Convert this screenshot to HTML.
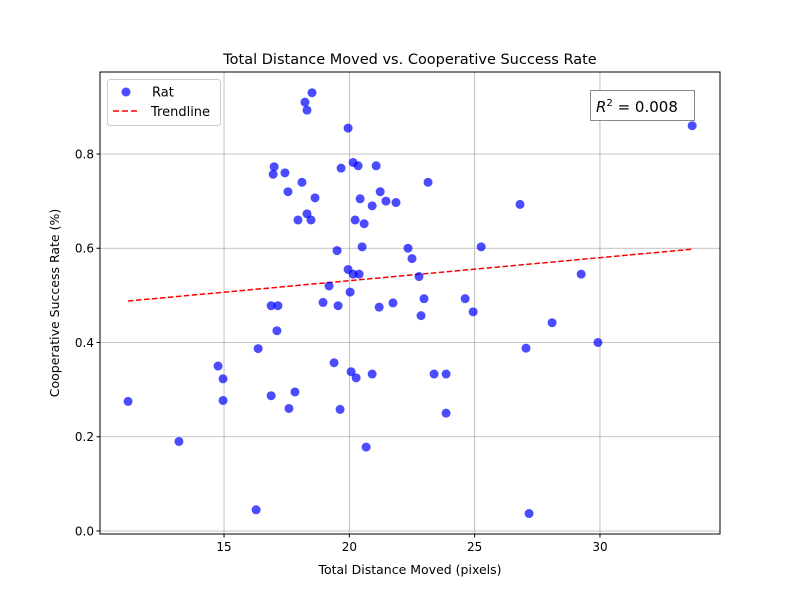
<!DOCTYPE html>
<html><head><meta charset="utf-8">
<style>
body{margin:0;background:#fff}
svg{display:block;font-family:"DejaVu Sans","Liberation Sans",sans-serif}
</style></head>
<body>
<svg id="chart" width="800" height="600" viewBox="0 0 800 600">
<rect width="800" height="600" fill="#fff"/>
<g id="grid"></g>
<g id="trend"></g>
<g id="points"></g>
<rect x="100" y="72" width="620" height="462" fill="none" stroke="#000" stroke-width="1"/>
<g id="ticks"></g>
<text x="410" y="64" text-anchor="middle" font-size="14.5">Total Distance Moved vs. Cooperative Success Rate</text>
<text x="410" y="574" text-anchor="middle" font-size="12.5">Total Distance Moved (pixels)</text>
<text transform="translate(59,303) rotate(-90)" text-anchor="middle" font-size="12.5">Cooperative Success Rate (%)</text>
<g>
<rect x="107.5" y="79.5" width="113" height="46" rx="3" fill="#fff" fill-opacity="0.8" stroke="#ccc"/>
<circle cx="126" cy="92" r="4.5" fill="#0000ff" fill-opacity="0.7"/>
<text x="152" y="96.5" font-size="13">Rat</text>
<line x1="113" y1="111" x2="140" y2="111" stroke="#ff0000" stroke-width="1.6" stroke-dasharray="6,3"/>
<text x="151" y="116" font-size="13">Trendline</text>
</g>
<g>
<rect x="590.5" y="90.5" width="104" height="30" fill="#fff" stroke="#888"/>
<text x="596" y="112" font-size="15"><tspan font-style="italic">R</tspan><tspan font-size="10" dy="-6">2</tspan><tspan dy="6"> = 0.008</tspan></text>
</g>
</svg>
<script>
const xVals=[11.17,13.20,14.76,14.96,14.96,16.28,16.36,16.88,16.88,16.96,17.00,17.15,17.11,17.43,17.55,17.59,17.83,17.95,18.11,18.23,18.31,18.31,18.51,18.47,18.63,18.95,19.19,19.39,19.51,19.55,19.63,19.67,19.95,19.95,20.03,20.07,20.15,20.15,20.23,20.27,20.35,20.39,20.43,20.51,20.59,20.67,20.91,20.91,21.07,21.19,21.23,21.46,21.74,21.86,22.34,22.50,22.78,22.86,22.98,23.14,23.38,23.86,23.86,24.62,24.94,25.26,26.81,27.05,27.17,28.09,29.25,29.92,33.68];
const yVals=[0.275,0.19,0.35,0.323,0.277,0.045,0.387,0.287,0.478,0.757,0.773,0.478,0.425,0.76,0.72,0.26,0.295,0.66,0.74,0.91,0.893,0.673,0.93,0.66,0.707,0.485,0.52,0.357,0.595,0.478,0.258,0.77,0.855,0.555,0.507,0.338,0.782,0.545,0.66,0.325,0.775,0.545,0.705,0.603,0.652,0.178,0.333,0.69,0.775,0.475,0.72,0.70,0.484,0.697,0.60,0.578,0.54,0.457,0.493,0.74,0.333,0.333,0.25,0.493,0.465,0.603,0.693,0.388,0.037,0.442,0.545,0.40,0.86];
const trendX=[11.17,33.68];
const trendY=[0.488,0.598];
const xTicks=[15,20,25,30];
const yTicks=[0.0,0.2,0.4,0.6,0.8];
const X0=100,X1=720,Y0=534,Y1=72;
const xMin=10.05,xMax=34.79,yMin=-0.0064,yMax=0.974;
const sx=v=>X0+(v-xMin)/(xMax-xMin)*(X1-X0);
const sy=v=>Y0-(v-yMin)/(yMax-yMin)*(Y0-Y1);
const NS="http://www.w3.org/2000/svg";
function mk(parent,tag,attrs){const e=document.createElementNS(NS,tag);for(const k in attrs)e.setAttribute(k,attrs[k]);document.getElementById(parent).appendChild(e);return e;}
xTicks.forEach(t=>{
  const g=mk('grid','line',{x1:sx(t),x2:sx(t),y1:Y1,y2:Y0,stroke:'#b0b0b0','stroke-width':0.8});
  
  
  const tk=mk('ticks','line',{x1:sx(t),x2:sx(t),y1:Y0,y2:Y0+3.5,stroke:'#000'});
  
  
  const tl=mk('ticks','text',{x:sx(t),y:Y0+17,'text-anchor':'middle','font-size':12});
  tl.textContent=String(t);
  
  
});
yTicks.forEach(t=>{
  const g=mk('grid','line',{x1:X0,x2:X1,y1:sy(t),y2:sy(t),stroke:'#b0b0b0','stroke-width':0.8});
  
  
  const tk=mk('ticks','line',{x1:X0-3.5,x2:X0,y1:sy(t),y2:sy(t),stroke:'#000'});
  
  
  const tl=mk('ticks','text',{x:X0-6,y:sy(t)+4.5,'text-anchor':'end','font-size':12});
  tl.textContent=t.toFixed(1);
  
  
});
xVals.forEach((v,i)=>{
  const c=mk('points','circle',{cx:sx(v),cy:sy(yVals[i]),r:4.5,fill:'#0000ff','fill-opacity':0.7});
  
  
});
const tl=mk('trend','line',{x1:sx(trendX[0]),y1:sy(trendY[0]),x2:sx(trendX[1]),y2:sy(trendY[1]),stroke:'#ff0000','stroke-width':1.5,'stroke-dasharray':'5.5,2.5'});


</script>
</body></html>
